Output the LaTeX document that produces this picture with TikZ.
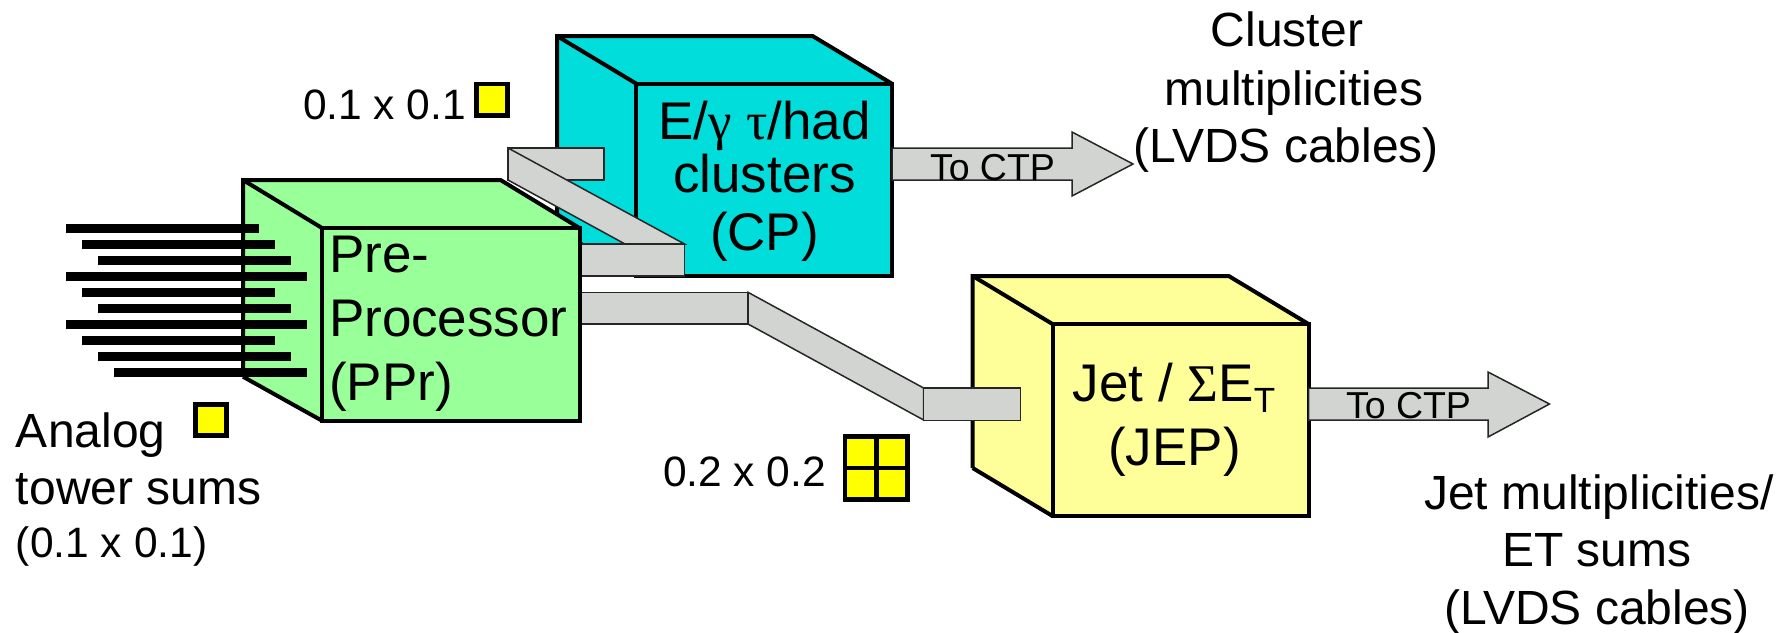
\documentclass[tikz,border=0pt]{standalone}
\usepackage{fontspec}
\setmainfont{Liberation Sans}
\newfontfamily\grk{Liberation Serif}
\definecolor{cpfill}{HTML}{00DDDA}
\definecolor{pprfill}{HTML}{99FF99}
\definecolor{jepfill}{HTML}{FFFF99}
\definecolor{busfill}{HTML}{D2D4D2}
\definecolor{cellfill}{HTML}{FFFF00}
\newcommand{\fs}[1]{\fontsize{#1}{#1}\selectfont}
\newcommand{\cubebox}[8]{% fill, fx0, fx1, fy0, fy1, bx0, byTop, byBot
  \fill[#1] (#6,#7) -- (#3-#2+#6,#7) -- (#3,#4) -- (#3,#5) -- (#2,#5) -- (#6,#8) -- cycle;
  \draw[cubeedge] (#6,#8) -- (#6,#7) -- (#3-#2+#6,#7) -- (#3,#4);
  \draw[cubeedge] (#6,#7) -- (#2,#4);
  \draw[cubeedge] (#6,#8) -- (#2,#5);
  \draw[cubeedge] (#2,#4) rectangle (#3,#5);
}
\tikzset{
  cubeedge/.style={draw=black,line width=4pt,miter limit=10},
  busline/.style={draw=black!85,fill=busfill,line width=1.5pt,line join=miter},
  bar/.style={fill=black},
  cell/.style={draw=black,fill=cellfill,line width=4.5pt},
  txt/.style={inner sep=0pt,outer sep=0pt,font=\fs{48}},
  big/.style={inner sep=0pt,outer sep=0pt,font=\fs{53}},
  small/.style={inner sep=0pt,outer sep=0pt,font=\fs{42.5}},
  ctp/.style={inner sep=0pt,outer sep=0pt,font=\fs{37.5}},
}
\begin{document}
\begin{tikzpicture}[x=1pt,y=-1pt]
\useasboundingbox (0,0) rectangle (1786,632);
% cubes behind
\cubebox{jepfill}{1052.5}{1308.5}{324}{516}{972.7}{276}{468}
\cubebox{cpfill}{636}{891.6}{83.5}{276}{557}{36}{230}
% CP bus
\draw[busline] (508,148) rectangle (604,180);
\draw[busline] (508,148) -- (684.5,244) -- (625,244) -- (508,180) -- cycle;
\draw[busline] (575,244) rectangle (684.5,276);
% JEP bus
\draw[busline] (575,292.3) rectangle (748,324);
\draw[busline] (748,292.3) -- (923.6,388) -- (923.6,420) -- (748,324) -- cycle;
\draw[busline] (923.6,388) rectangle (1020.7,420.5);
% output arrows
\draw[busline] (892,148) -- (1072,148) -- (1072,132) -- (1133,164) -- (1072,196) -- (1072,180) -- (892,180) -- cycle;
\draw[busline] (1308.5,388) -- (1488,388) -- (1488,372) -- (1549.5,404) -- (1488,437) -- (1488,420) -- (1308.5,420) -- cycle;
% PPr
\cubebox{pprfill}{322}{579.5}{228}{420.7}{243}{180}{376.7}
% tower bars
\foreach \xa/\xb/\ym in {66/259/228.3,82/275/244.3,98/291/260.3,66/307/276.3,82/275/292.3,98/291/308.3,66/307/324.3,82/275/340.3,98/291/356.3,114/307/372.3}
  \fill[bar] (\xa,\ym-4.4) rectangle (\xb,\ym+4.4);
% cells
\draw[cell] (195.3,404.3) rectangle (226.7,435.7);
\draw[cell] (476.3,84) rectangle (507.7,115.7);
\draw[cell] (844.9,436.3) rectangle (907.7,499.7);
\draw[line width=4.5pt] (876.3,436) -- (876.3,500);
\draw[line width=4.5pt] (844.6,468) -- (908,468);
% labels
\node[big,anchor=base west] (preA) at (329,272.7) {Pre-};
\node[big,anchor=base west] (preB) at (329,336.7) {Processor};
\node[big,anchor=base west] (preC) at (329,400) {(PPr)};
\node[big,anchor=base] (cpA) at (764.5,139) {E/{\grk γ} {\grk τ}/had};
\node[big,anchor=base] (cpB) at (764.5,192.7) {clusters};
\node[big,anchor=base] (cpC) at (764.5,250) {(CP)};
\node[big,anchor=base] (jepA) at (1174,401.7) {Jet / {\grk Σ}E\raisebox{-0.2em}{\fs{35}T}};
\node[big,anchor=base] (jepB) at (1174.5,465) {(JEP)};
\node[ctp,anchor=base west] (ctpA) at (930,180) {To CTP};
\node[ctp,anchor=base west] (ctpB) at (1346,418) {To CTP};
\node[txt,anchor=base west] (anA) at (16,447) {Analog};
\node[txt,anchor=base west] (anB) at (16,504) {tower sums};
\node[small,anchor=base west] (anC) at (16,557) {(0.1 x 0.1)};
\node[small,anchor=base west] (sizeA) at (303,119.6) {0.1 x 0.1};
\node[small,anchor=base west] (sizeB) at (663,486.7) {0.2 x 0.2};
\node[txt,anchor=base] (clA) at (1287,46) {Cluster};
\node[txt,anchor=base] (clB) at (1294,105) {multiplicities};
\node[txt,anchor=base] (clC) at (1286,162) {(LVDS cables)};
\node[txt,anchor=base] (jtA) at (1599,509) {Jet multiplicities/};
\node[txt,anchor=base] (jtB) at (1597,566) {ET sums};
\node[txt,anchor=base] (jtC) at (1597,624) {(LVDS cables)};
\end{tikzpicture}
\end{document}
